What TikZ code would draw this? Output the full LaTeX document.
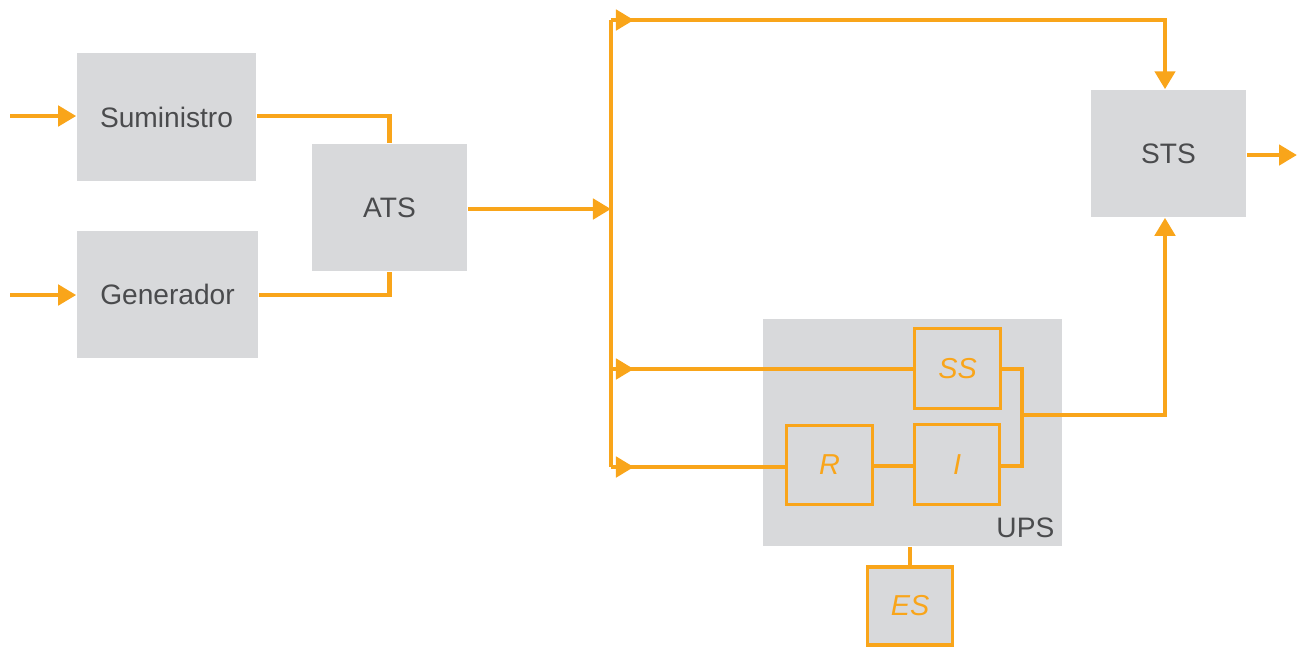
\documentclass[tikz,border=0pt]{standalone}
\usepackage{fontspec}
\setmainfont{Liberation Sans}
\usetikzlibrary{arrows.meta}
\definecolor{orng}{HTML}{F9A51A}
\definecolor{boxg}{HTML}{D8D9DB}
\definecolor{txtg}{HTML}{4A4B4D}
\begin{document}
\begin{tikzpicture}[x=0.01cm,y=-0.01cm,
  gbox/.style={fill=boxg,draw=none,inner sep=0pt,text=txtg,font=\fontsize{8pt}{9pt}\selectfont},
  obox/.style={fill=boxg,draw=orng,line width=0.9pt,inner sep=0pt,text=orng,font=\fontsize{8.2pt}{9pt}\selectfont\itshape},
  wire/.style={draw=orng,line width=1.35pt},
  arr/.style={wire,-{Triangle[length=0.18cm,width=0.2cm]}}]
\useasboundingbox (0,0) rectangle (1297,647);
% boxes
\node[gbox,minimum width=1.79cm,minimum height=1.28cm] (sum) at (166.5,117) {Suministro};
\node[gbox,minimum width=1.81cm,minimum height=1.27cm] (gen) at (167.5,294.5) {Generador};
\node[gbox,minimum width=1.55cm,minimum height=1.27cm] (ats) at (389.5,207.5) {ATS};
\node[gbox,minimum width=1.55cm,minimum height=1.27cm] (sts) at (1168.5,153.5) {STS};
\node[gbox,minimum width=2.99cm,minimum height=2.27cm] (ups) at (912.5,432.5) {};
\node[text=txtg,font=\fontsize{8pt}{9pt}\selectfont,anchor=east,inner sep=0pt] (upsl) at (1055,528) {UPS};
\node[obox,minimum width=0.86cm,minimum height=0.80cm] (ss) at (957.5,368.5) {SS};
\node[obox,minimum width=0.85cm,minimum height=0.80cm] (inv) at (957,464.5) {I};
\node[obox,minimum width=0.86cm,minimum height=0.79cm] (rec) at (829.5,465) {R};
\node[obox,minimum width=0.85cm,minimum height=0.78cm] (es) at (910,606) {ES};
% coordinates
\coordinate (in1) at (10,116);
\coordinate (in2) at (10,295);
\coordinate (bt) at (611,20);
\coordinate (bm) at (611,209);
\coordinate (b1) at (611,369);
\coordinate (b2) at (611,467);
\coordinate (tc) at (1165,20);
\coordinate (jn) at (1022,415);
\coordinate (jc) at (1165,415);
\coordinate (out) at (1297,155);
% inputs
\draw[arr] (in1) -- (sum.west |- in1);
\draw[arr] (in2) -- (gen.west |- in2);
% to ATS
\draw[wire] (sum.east |- in1) -| (ats.north);
\draw[wire] (gen.east |- in2) -| (ats.south);
% ATS to bus
\draw[arr] (ats.east |- bm) -- (bm);
\draw[wire] (bt) -- (b2);
% top branch
\draw[wire] (bt) -- (tc) -- (1165,70);
\draw[arr] (bt) -- (634,20);
\draw[arr] (1165,60) -- (sts.north -| tc);
% bypass to SS
\draw[wire] (b1) -- (ss.west |- b1);
\draw[arr] (b1) -- (634,369);
% to rectifier
\draw[wire] (b2) -- (rec.west |- b2);
\draw[arr] (b2) -- (634,467);
\draw[wire] (rec.east |- 0,466) -- (inv.west |- 0,466);
% outputs of SS and I
\draw[wire] (ss.east |- b1) -- (1022,369) -- (1022,466) -- (inv.east |- 0,466);
\draw[wire] (jn) -- (jc) -- (1165,240);
\draw[arr] (1165,260) -- (sts.south -| tc);
% STS out
\draw[arr] (sts.east |- out) -- (out);
% ES
\draw[wire] (ups.south -| es.north) -- (es.north);
\end{tikzpicture}
\end{document}
